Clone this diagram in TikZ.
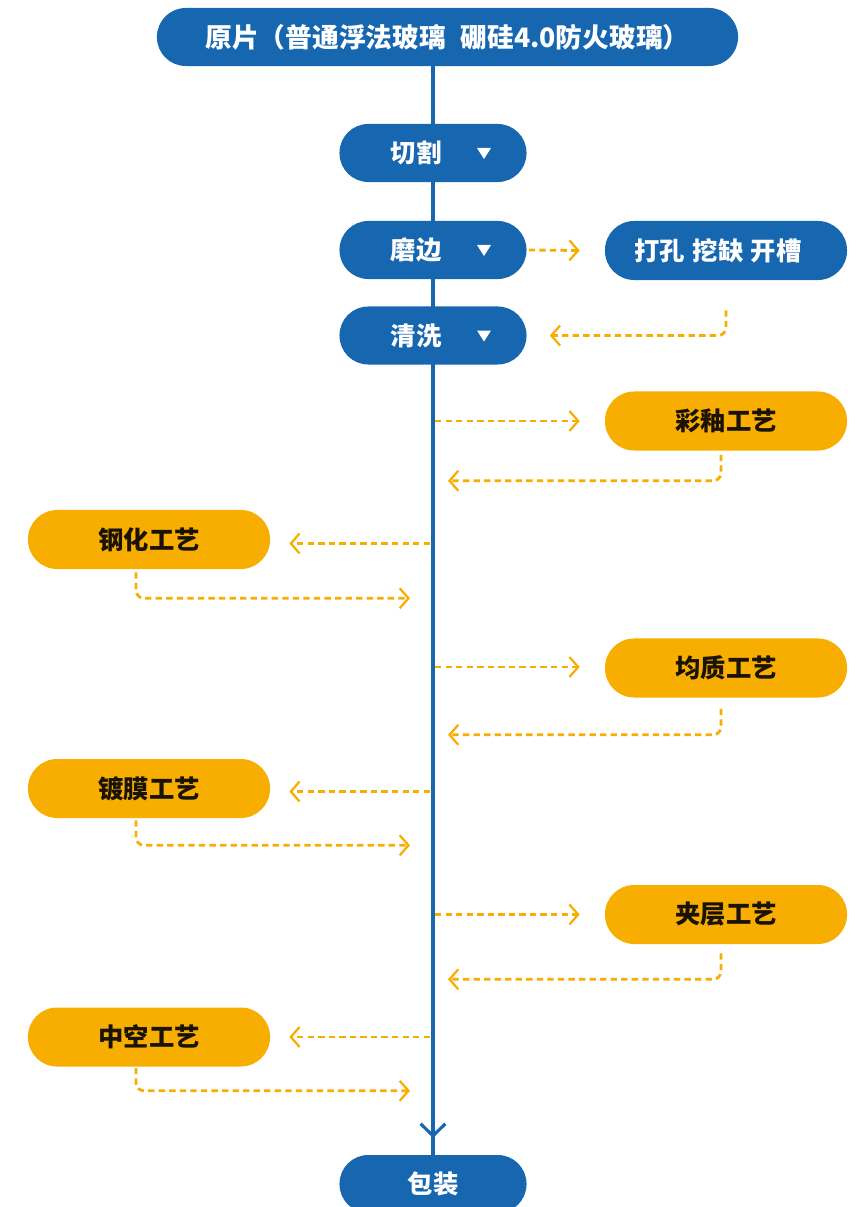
\documentclass[tikz,border=0pt]{standalone}
\usepackage{fontspec}
\setmainfont{Noto Sans CJK SC}
\usepackage{tikz}
\usetikzlibrary{arrows.meta,calc,backgrounds}

\definecolor{flowBlue}{RGB}{22,102,176}
\definecolor{flowOrange}{RGB}{248,174,0}
\definecolor{darkText}{RGB}{25,18,5}

\tikzset{
  pillFont/.style={font=\bfseries\fontsize{18}{18}\selectfont},
  bluePill/.style={pillFont, fill=flowBlue, text=white, inner sep=0, minimum width=4.675cm, minimum height=1.45cm, rounded corners=0.72cm},
  wideBlue/.style={bluePill, minimum width=6.05cm, minimum height=1.475cm, rounded corners=0.73cm},
  orangePill/.style={pillFont, fill=flowOrange, text=darkText, inner sep=0, minimum width=6.05cm, minimum height=1.475cm, rounded corners=0.73cm},
  mainLine/.style={flowBlue, line width=2.2pt},
  sideArrow/.style={flowOrange, line width=2pt, dash pattern=on 4.5pt off 3pt, -{Straight Barb[length=0.22cm,width=0.5cm,line width=1.6pt]}},
  sideBack/.style={sideArrow, rounded corners=0.2cm}
}

% small white triangle inside a blue step
\newcommand{\downMark}[1]{\fill[white] ($(#1.center)+(44,-5)$) -- ++(14,0) -- ++(-7,11) -- cycle;}

\begin{document}
\begin{tikzpicture}[x=0.025cm, y=-0.025cm]
\useasboundingbox (0,0) rectangle (864,1207);

\node[bluePill, minimum width=14.525cm, font=\bfseries\fontsize{19}{19}\selectfont] (raw) at (447.5,37) {原片（普通浮法玻璃\kern0.55em 硼硅4.0防火玻璃）};
\node[bluePill] (cut) at (433,153) {切割\kern0.85cm};
\node[bluePill] (edge) at (433,250) {磨边\kern0.85cm};
\node[wideBlue] (drill) at (726,250.5) {打孔\kern0.3em 挖缺\kern0.3em 开槽\kern0.4cm};
\node[bluePill] (wash) at (433,335.5) {清洗\kern0.85cm};
\node[orangePill] (glaze) at (726,421) {彩釉工艺};
\node[orangePill] (temper) at (149,539.5) {钢化工艺};
\node[orangePill] (homog) at (726,668) {均质工艺};
\node[orangePill] (coat) at (149,788.5) {镀膜工艺};
\node[orangePill] (laminate) at (726,914.5) {夹层工艺};
\node[orangePill] (hollow) at (149,1037) {中空工艺};
\node[bluePill] (pack) at (433,1184) {包装};

\downMark{cut}
\downMark{edge}
\downMark{wash}

\begin{scope}[on background layer]
  \draw[mainLine] (raw.south -| pack.north) -- (pack.north);
  \draw[mainLine, -{Straight Barb[length=0.3cm,width=0.62cm,line width=2.2pt]}, shorten >=0.42cm] (raw.south -| pack.north) -- (pack.north);
\end{scope}

% side steps
\draw[sideArrow] ($(edge.east)+(2,0)$) -- ($(drill.west)+(-25,0)$);
\draw[sideBack] ($(drill.south)+(0,30)$) |- ($(wash.east)+(23,0)$);

\draw[sideArrow] ($(glaze.west -| pack.north)+(2,0)$) -- ($(glaze.west)+(-25,0)$);
\draw[sideBack] ($(glaze.south)+(-5,4)$) |- ($(glaze.south -| pack.north)+(15,30)$);

\draw[sideArrow] ($(temper.east -| pack.north)+(-3,4)$) -- ($(temper.east)+(19,4)$);
\draw[sideBack] ($(temper.south)+(-13,3)$) |- ($(temper.south -| pack.north)+(-23,29)$);

\draw[sideArrow] ($(homog.west -| pack.north)+(2,-1)$) -- ($(homog.west)+(-25,-1)$);
\draw[sideBack] ($(homog.south)+(-5,11)$) |- ($(homog.south -| pack.north)+(15,37)$);

\draw[sideArrow] ($(coat.east -| pack.north)+(-3,3)$) -- ($(coat.east)+(19,3)$);
\draw[sideBack] ($(coat.south)+(-13,2)$) |- ($(coat.south -| pack.north)+(-23,27)$);

\draw[sideArrow] ($(laminate.west -| pack.north)+(2,0)$) -- ($(laminate.west)+(-25,0)$);
\draw[sideBack] ($(laminate.south)+(-5,9)$) |- ($(laminate.south -| pack.north)+(15,35)$);

\draw[sideArrow] ($(hollow.east -| pack.north)+(-3,0)$) -- ($(hollow.east)+(19,0)$);
\draw[sideBack] ($(hollow.south)+(-13,1)$) |- ($(hollow.south -| pack.north)+(-23,24)$);

\end{tikzpicture}
\end{document}
